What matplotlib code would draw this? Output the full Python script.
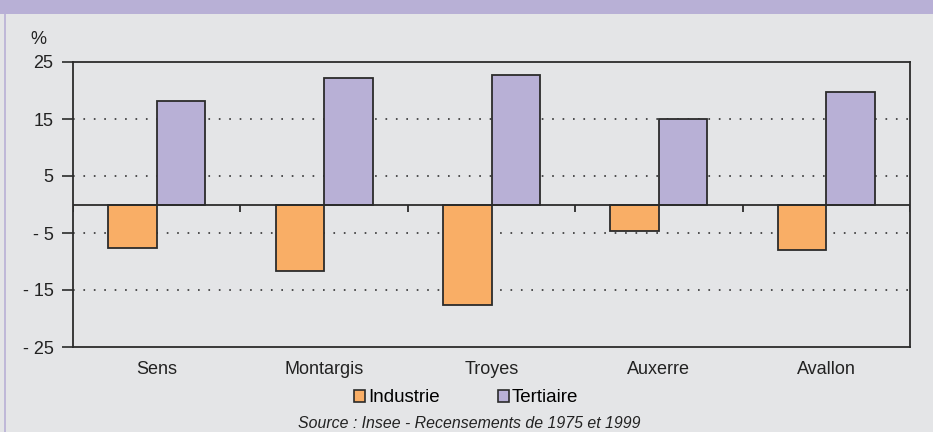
import numpy as np
import matplotlib
matplotlib.use('Agg')
import matplotlib.pyplot as plt
from matplotlib.patches import Rectangle, Patch

plt.rcParams['font.family'] = ['Liberation Sans', 'DejaVu Sans']

villes = ['Sens', 'Montargis', 'Troyes', 'Auxerre', 'Avallon']
industrie = [-7.7, -11.6, -17.7, -4.6, -8.0]
tertiaire = [18.2, 22.2, 22.8, 15.0, 19.7]
yticks = [25, 15, 5, -5, -15, -25]
ylabels = ['25', '15', '5', '- 5', '- 15', '- 25']

bg = '#e4e5e7'
violet = '#b8b0d6'
orange = '#f9ae66'
edge = '#2b2b2b'

fig = plt.figure(figsize=(9.33, 4.32), dpi=100, facecolor=bg)

# bandeau du haut + bordure gauche
fig.patches.append(Rectangle((0, 1 - 14 / 432), 1, 14 / 432, transform=fig.transFigure,
                             facecolor=violet, edgecolor='none', zorder=0))
fig.add_artist(plt.Line2D([5 / 933, 5 / 933], [0, 1 - 14 / 432], transform=fig.transFigure,
                          color=violet, lw=1.2))

ax = fig.add_axes([73 / 933, 1 - 347 / 432, (910 - 73) / 933, (347 - 62) / 432])
ax.set_facecolor(bg)

x = np.arange(len(villes))
w = 0.29
ax.bar(x - w / 2, industrie, w, color=orange, edgecolor=edge, linewidth=1.3, zorder=3)
ax.bar(x + w / 2, tertiaire, w, color=violet, edgecolor=edge, linewidth=1.3, zorder=3)

ax.set_ylim(-25, 25)
ax.set_xlim(-0.5, len(villes) - 0.5)

for g in [15, 5, -5, -15]:
    ax.axhline(g, color='#333333', lw=1.2, linestyle=(0, (1, 5.25)), zorder=1)
ax.axhline(0, color=edge, lw=1.3, zorder=4)
bounds = np.arange(len(villes) + 1) - 0.5
ax.vlines(bounds, -1.4, 0, color=edge, lw=1.3, zorder=4)

ax.set_yticks(yticks)
ax.set_yticklabels(ylabels, fontsize=13, color='#222222')
ax.tick_params(axis='y', length=8, width=1.2, color=edge, pad=6)
ax.set_xticks(x)
ax.set_xticklabels(villes, fontsize=13, color='#222222')
ax.tick_params(axis='x', length=0, pad=10)
for s in ax.spines.values():
    s.set_color(edge)
    s.set_linewidth(1.3)

fig.text(38 / 933, 1 - 39 / 432, '%', fontsize=13, color='#222222', ha='center', va='center')

handles = [Patch(facecolor=orange, edgecolor=edge, linewidth=1.2, label='Industrie'),
           Patch(facecolor=violet, edgecolor=edge, linewidth=1.2, label='Tertiaire')]
fig.legend(handles=handles, loc='center', bbox_to_anchor=(466 / 933, 1 - 398 / 432), ncol=2,
           frameon=False, fontsize=13.5, handlelength=0.6, handleheight=0.6,
           handletextpad=0.15, columnspacing=3.1)

fig.text(469 / 933, 1 - 423 / 432, 'Source : Insee - Recensements de 1975 et 1999',
         fontsize=11.4, style='italic', color='#222222', ha='center', va='center')

fig.savefig('out.png', dpi=100, facecolor=bg)
